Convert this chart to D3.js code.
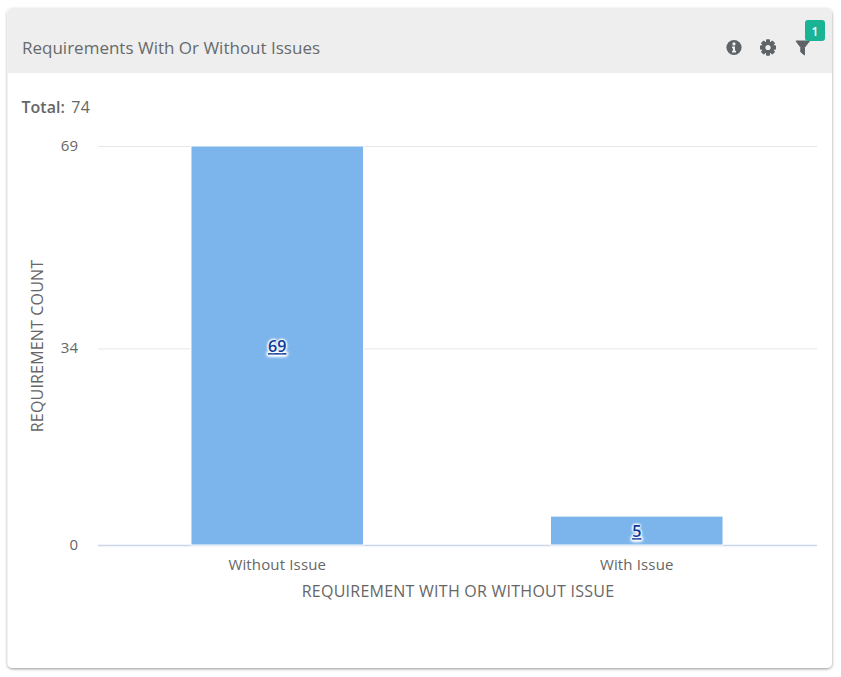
<!DOCTYPE html>
<html><head><meta charset="utf-8">
<script src="https://cdn.jsdelivr.net/npm/d3@7"></script>
<style>
html,body{margin:0;padding:0;background:#fff;overflow:hidden}
svg{display:block;font-family:"Open Sans",sans-serif}
</style></head><body>
<svg id="c" width="841" height="677"></svg>
<script>
const categories = ["Without Issue", "With Issue"];
const values = [69, 5];
const yTicks = [0, 34, 69];
const title = "Requirements With Or Without Issues";
const totalLabel = "Total:";
const totalValue = "74";
const xTitle = "REQUIREMENT WITH OR WITHOUT ISSUE";
const yTitle = "REQUIREMENT COUNT";
const badge = "1";

const svg = d3.select("#c");
const defs = svg.append("defs");
const f = defs.append("filter").attr("id","sh").attr("x","-5%").attr("y","-5%").attr("width","110%").attr("height","110%");
f.append("feDropShadow").attr("dx",0).attr("dy",1).attr("stdDeviation",1.4).attr("flood-color","#000").attr("flood-opacity",0.42);

// card
svg.append("rect").attr("x",7.5).attr("y",8.5).attr("width",824.5).attr("height",659.5).attr("rx",5).attr("fill","#fff").attr("filter","url(#sh)");
svg.append("path").attr("d","M8 73V13a5 5 0 0 1 5-5H827a5 5 0 0 1 5 5V73Z").attr("fill","#eeeeee");
svg.append("text").attr("x",22).attr("y",53.5).attr("font-size",17).attr("fill","#666a6c").text(title);
const tot = svg.append("text").attr("x",21.5).attr("y",112.5).attr("font-size",16).attr("fill","#666");
tot.append("tspan").attr("font-weight",600).text(totalLabel);
tot.append("tspan").attr("dx",6.5).attr("letter-spacing",0.4).text(totalValue);

// icons
const ic = "#5f6367";
const info = svg.append("g").attr("transform","translate(734,47.5)");
info.append("circle").attr("r",7.6).attr("fill",ic);
info.append("circle").attr("cx",0).attr("cy",-3.6).attr("r",1.6).attr("fill","#eee");
info.append("path").attr("d","M-2-1H1V3.2H2V5H-2V3.2H-1V.7H-2Z").attr("fill","#eee");
const gear = svg.append("g").attr("transform","translate(768,47.5)");
d3.range(8).forEach(i=>gear.append("rect").attr("x",-2).attr("y",-8).attr("width",4).attr("height",16).attr("rx",.8).attr("fill",ic).attr("transform",`rotate(${i*45})`));
gear.append("circle").attr("r",6).attr("fill",ic);
gear.append("circle").attr("r",2.6).attr("fill","#eee");
svg.append("path").attr("d","M796 41H809.5L804.5 47.5V55L800.8 52V47.5Z").attr("fill",ic).attr("stroke",ic).attr("stroke-linejoin","round");
svg.append("rect").attr("x",805).attr("y",20).attr("width",20).attr("height",21).attr("rx",3).attr("fill","#1ab394");
svg.append("text").attr("x",815).attr("y",36).attr("text-anchor","middle").attr("font-size",12).attr("font-weight",600).attr("fill","#fff").text(badge);

// scales
const x = d3.scaleBand().domain(categories).range([97.5,816.5]).paddingInner(0.52).paddingOuter(0.26);
const y = d3.scaleLinear().domain([0,69]).range([545,146]);

// grid
const gy = svg.append("g").attr("transform","translate(98,0)").call(d3.axisLeft(y).tickValues(yTicks).tickSize(-719).tickPadding(20));
gy.select(".domain").remove();
gy.selectAll(".tick line").attr("stroke",d=>d===0?"#ccd6eb":"#e6e6e6").attr("stroke-width",d=>d===0?1.5:1);
gy.selectAll(".tick text").attr("font-size",15).attr("fill","#666").attr("font-family","'Open Sans',sans-serif").attr("dy","0.3em");

// bars
svg.append("g").selectAll("rect").data(values).join("rect")
  .attr("x",(d,i)=>x(categories[i])).attr("y",d=>y(d))
  .attr("width",x.bandwidth()).attr("height",d=>y(0)-y(d))
  .attr("fill","#7cb5ec").attr("stroke","#fff").attr("stroke-width",1);

// data labels
svg.append("g").selectAll("text").data(values).join("text")
  .attr("x",(d,i)=>x(categories[i])+x.bandwidth()/2)
  .attr("y",d=>(y(d)+y(0))/2+6.5)
  .attr("text-anchor","middle").attr("font-size",16).attr("font-weight",600)
  .attr("fill","#0d3a9c").attr("text-decoration","underline")
  .style("text-shadow","0 0 3px #fff,0 0 3px #fff,0 0 2px #fff")
  .text(d=>d);

// x axis
const gx = svg.append("g").attr("transform","translate(0,545)").call(d3.axisBottom(x).tickSize(0).tickPadding(14));
gx.select(".domain").remove();
gx.selectAll(".tick text").attr("font-size",15).attr("letter-spacing",0.15).attr("fill","#666").attr("font-family","'Open Sans',sans-serif");
svg.append("text").attr("x",458).attr("y",597).attr("text-anchor","middle").attr("font-size",16).attr("letter-spacing",0.25).attr("fill","#666").text(xTitle);
svg.append("text").attr("transform","translate(43,346) rotate(-90)").attr("text-anchor","middle").attr("font-size",16).attr("letter-spacing",0.17).attr("fill","#666").text(yTitle);
</script></body></html>
